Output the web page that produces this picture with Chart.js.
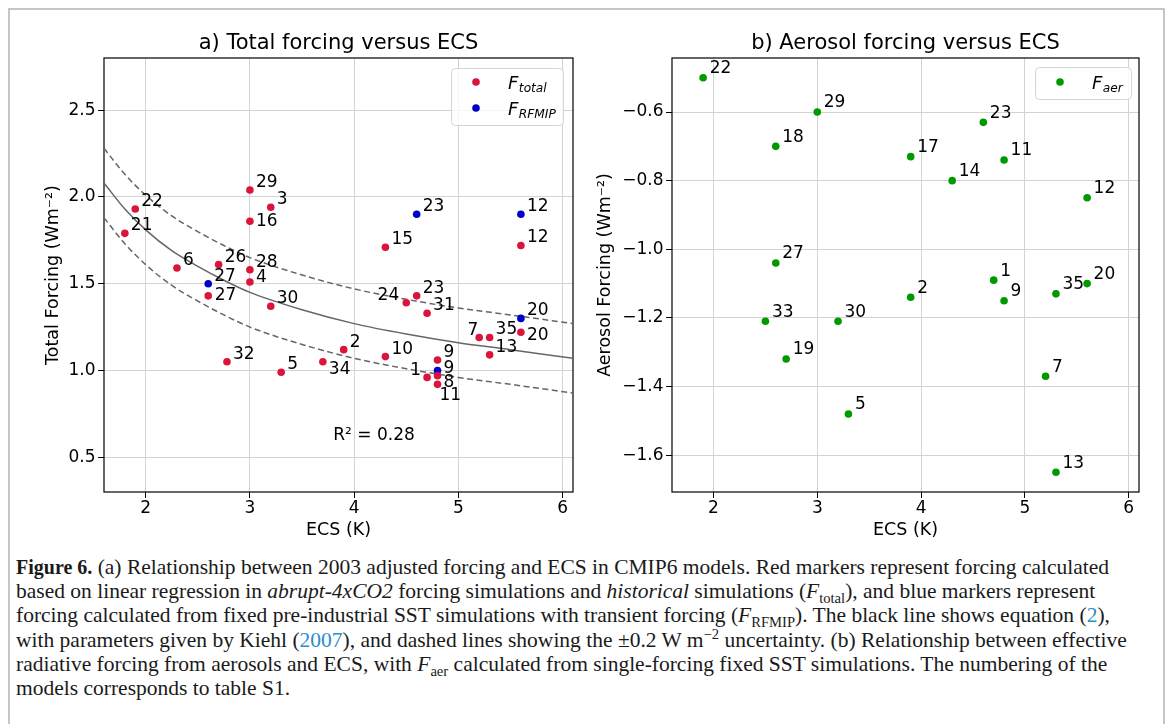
<!DOCTYPE html>
<html>
<head>
<meta charset="utf-8">
<script src="https://cdn.jsdelivr.net/npm/chart.js@4.4.1/dist/chart.umd.min.js"></script>
<style>
  body { margin: 0; background: #fff; width: 1171px; height: 724px; overflow: hidden; position: relative; }
  #frame { position: absolute; left: 8px; top: 8px; width: 1153px; height: 760px; border: 2px solid #c6c6c6; border-bottom: none; }
  #canvasA { position: absolute; left: 0; top: 0; }
  #canvasB { position: absolute; left: 590px; top: 0; }
  #caption { position: absolute; left: 16px; top: 555px; font-family: "Liberation Serif", serif; font-size: 21.5px;
             line-height: 24.2px; color: #1a1a1a; white-space: nowrap; }
  #caption b { font-size: 20px; }
  #caption sub, #caption sup { font-size: 68%; line-height: 0; }
  #caption .ln { color: #2a8ccc; }
</style>
</head>
<body>
<div id="frame"></div>
<canvas id="canvasA" width="590" height="545"></canvas>
<canvas id="canvasB" width="570" height="545"></canvas>
<div id="caption"><b>Figure 6.</b> (a) Relationship between 2003 adjusted forcing and ECS in CMIP6 models. Red markers represent forcing calculated<br>based on linear regression in <i>abrupt-4xCO2</i> forcing simulations and <i>historical</i> simulations (<i>F</i><sub>total</sub>), and blue markers represent<br>forcing calculated from fixed pre-industrial SST simulations with transient forcing (<i>F</i><sub>RFMIP</sub>). The black line shows equation (<span class="ln">2</span>),<br>with parameters given by Kiehl (<span class="ln">2007</span>), and dashed lines showing the ±0.2 W m<sup>−2</sup> uncertainty. (b) Relationship between effective<br>radiative forcing from aerosols and ECS, with <i>F</i><sub>aer</sub> calculated from single-forcing fixed SST simulations. The numbering of the<br>models corresponds to table S1.</div>
<script>
// ---- panel a: total forcing ----
var totalIds = ['29','22','3','16','21','15','12','6','26','28','4','27','30','24','23','31',
                '7','35','20','13','32','2','10','5','34','9','1','8','11'];
var totalEcs = [3.0, 1.9, 3.2, 3.0, 1.8, 4.3, 5.6, 2.3, 2.7, 3.0, 3.0, 2.6, 3.2, 4.5, 4.6, 4.7,
                5.2, 5.3, 5.6, 5.3, 2.78, 3.9, 4.3, 3.3, 3.7, 4.8, 4.7, 4.8, 4.8];
var totalF   = [2.04, 1.93, 1.94, 1.86, 1.79, 1.71, 1.72, 1.59, 1.61, 1.58, 1.51, 1.43, 1.37, 1.39, 1.43, 1.33,
                1.19, 1.19, 1.22, 1.09, 1.05, 1.12, 1.08, 0.99, 1.05, 1.06, 0.96, 0.97, 0.92];

var rfmipIds = ['23','12','27','20','9'];
var rfmipEcs = [4.6, 5.6, 2.6, 5.6, 4.8];
var rfmipF   = [1.90, 1.90, 1.50, 1.30, 1.00];

// Kiehl curve and +-0.2 band
var curveEcs   = [1.6, 1.8, 2.0, 2.25, 2.5, 2.75, 3.0, 3.5, 4.0, 4.5, 5.0, 5.5, 6.1];
var curveMid   = [2.08, 1.93, 1.81, 1.69, 1.60, 1.52, 1.45, 1.35, 1.27, 1.21, 1.16, 1.12, 1.07];
var curveUpper = [2.28, 2.13, 2.01, 1.89, 1.80, 1.72, 1.65, 1.55, 1.47, 1.41, 1.36, 1.32, 1.27];
var curveLower = [1.88, 1.73, 1.61, 1.49, 1.40, 1.32, 1.25, 1.15, 1.07, 1.01, 0.96, 0.92, 0.87];

// ---- panel b: aerosol forcing ----
var aerIds = ['22','29','18','23','17','11','14','12','27','1','20','2','9','35','33','30','19','7','5','13'];
var aerEcs = [1.9, 3.0, 2.6, 4.6, 3.9, 4.8, 4.3, 5.6, 2.6, 4.7, 5.6, 3.9, 4.8, 5.3, 2.5, 3.2, 2.7, 5.2, 3.3, 5.3];
var aerF   = [-0.50, -0.60, -0.70, -0.63, -0.73, -0.74, -0.80, -0.85, -1.04, -1.09, -1.10, -1.14, -1.15, -1.13,
              -1.21, -1.21, -1.32, -1.37, -1.48, -1.65];

var ecsTicks = [2, 3, 4, 5, 6];
var totalTicks = [0.5, 1.0, 1.5, 2.0, 2.5];
var aerTicks = [-1.6, -1.4, -1.2, -1.0, -0.8, -0.6];

// label nudges in px: [dx, dy, align]
var nudgeTotal = { '24': [-7, -7.5, 'right'], '1': [-6, -7, 'right'], '7': [-1, -6.5, 'right'],
                   '34': [6, 7.5], '11': [2, 11.5], '8': [6, 6.5], '20': [6, 3.5], '27': [6.5, -0.5],
                   '16': [6, 0], '4': [6, -4] };
var nudgeRfmip = { '9': [6, -1.5] };

var RED = '#dc143c', BLUE = '#0000cd', GREEN = '#009a00';
var FONT = 'DejaVu Sans';

function pts(xs, ys) {
  return xs.map(function(x, i) { return {x: x, y: ys[i]}; });
}
function minus(v) { return String(v).replace('-', '\u2212'); }

var labelPlugin = {
  id: 'modelLabels',
  afterDatasetsDraw: function(chart, args, opts) {
    var ctx = chart.ctx;
    ctx.save();
    ctx.font = opts.size + 'px ' + FONT;
    ctx.fillStyle = '#000';
    ctx.textBaseline = 'middle';
    chart.data.datasets.forEach(function(ds, i) {
      if (!ds.ids) return;
      var meta = chart.getDatasetMeta(i);
      meta.data.forEach(function(pt, j) {
        var id = ds.ids[j];
        var n = (ds.nudge && ds.nudge[id]) || opts.nudge;
        ctx.textAlign = n[2] || 'left';
        ctx.fillText(id, pt.x + n[0], pt.y + n[1]);
      });
    });
    ctx.restore();
  }
};

var framePlugin = {
  id: 'axesFrame',
  beforeDatasetsDraw: function(chart) {
    var a = chart.chartArea, ctx = chart.ctx;
    ctx.save();
    ctx.strokeStyle = '#000';
    ctx.lineWidth = 1.2;
    ctx.strokeRect(a.left, a.top, a.right - a.left, a.bottom - a.top);
    ctx.restore();
  }
};

// legend with italic F and subscript, matplotlib style
var legendPlugin = {
  id: 'figLegend',
  afterDraw: function(chart, args, opts) {
    var a = chart.chartArea, ctx = chart.ctx;
    var x0 = a.right - opts.right - opts.width, y0 = a.top + opts.top;
    ctx.save();
    ctx.beginPath();
    ctx.roundRect(x0 + 0.5, y0 + 0.5, opts.width, opts.height, 4);
    ctx.fillStyle = 'rgba(255,255,255,0.8)';
    ctx.fill();
    ctx.strokeStyle = '#d4d4d4';
    ctx.lineWidth = 1;
    ctx.stroke();
    opts.items.forEach(function(it, k) {
      var cy = y0 + opts.firstRow + k * opts.rowGap;
      ctx.beginPath();
      ctx.arc(x0 + 25, cy, 3.8, 0, Math.PI * 2);
      ctx.fillStyle = it.color;
      ctx.fill();
      ctx.fillStyle = '#000';
      ctx.textBaseline = 'alphabetic';
      ctx.textAlign = 'left';
      ctx.font = 'italic 18px ' + FONT;
      ctx.fillText('F', x0 + 57, cy + 7);
      var w = ctx.measureText('F').width;
      ctx.font = 'italic 12.2px ' + FONT;
      ctx.fillText(it.sub, x0 + 57 + w + 0.5, cy + 9.5);
    });
    ctx.restore();
  }
};

var notePlugin = {
  id: 'note',
  afterDatasetsDraw: function(chart, args, opts) {
    if (!opts.text) return;
    var ctx = chart.ctx;
    ctx.save();
    ctx.font = '17px ' + FONT;
    ctx.fillStyle = '#000';
    ctx.textAlign = 'left';
    ctx.textBaseline = 'alphabetic';
    ctx.fillText(opts.text, chart.scales.x.getPixelForValue(opts.x), chart.scales.y.getPixelForValue(opts.y));
    ctx.restore();
  }
};

function axisX(titleText) {
  return {
    type: 'linear', min: 1.6, max: 6.1,
    afterBuildTicks: function(s) { s.ticks = ecsTicks.map(function(v) { return {value: v}; }); },
    afterFit: function(s) { s.height = 53; },
    grid: { color: '#d3d3d3', lineWidth: 1, tickColor: '#000', tickLength: 6 },
    border: { display: false },
    ticks: { color: '#000', font: {family: FONT, size: 17}, padding: 0, maxRotation: 0,
             callback: function(v) { return String(v); } },
    title: { display: true, text: titleText, color: '#000', font: {family: FONT, size: 17.5},
             padding: {top: 0, bottom: 4.5} }
  };
}

function axisY(min, max, tickVals, width, titleText, titlePad) {
  return {
    type: 'linear', min: min, max: max,
    afterBuildTicks: function(s) { s.ticks = tickVals.map(function(v) { return {value: v}; }); },
    afterFit: function(s) { s.width = width; },
    grid: { color: '#d3d3d3', lineWidth: 1, tickColor: '#000', tickLength: 6 },
    border: { display: false },
    ticks: { color: '#000', font: {family: FONT, size: 17}, padding: 2.5,
             callback: function(v) { return minus(v.toFixed(1)); } },
    title: { display: true, text: titleText, color: '#000', font: {family: FONT, size: 17.5},
             padding: {top: titlePad, bottom: 0} }
  };
}

function titleOpts(text) {
  return { display: true, text: text, fullSize: false, color: '#000',
           font: {family: FONT, size: 21, weight: 'normal'}, padding: {top: 31.4, bottom: 1.4} };
}

var configA = {
  type: 'scatter',
  data: {
    datasets: [
      { label: 'F_total', ids: totalIds, nudge: nudgeTotal, data: pts(totalEcs, totalF),
        backgroundColor: RED, borderWidth: 0, pointRadius: 3.8 },
      { label: 'F_RFMIP', ids: rfmipIds, nudge: nudgeRfmip, data: pts(rfmipEcs, rfmipF),
        backgroundColor: BLUE, borderWidth: 0, pointRadius: 3.8 },
      { label: 'Kiehl', data: pts(curveEcs, curveMid), showLine: true, pointRadius: 0,
        borderColor: '#666', borderWidth: 1.5, cubicInterpolationMode: 'monotone' },
      { label: 'upper', data: pts(curveEcs, curveUpper), showLine: true, pointRadius: 0,
        borderColor: '#666', borderWidth: 1.5, borderDash: [6, 3.5], cubicInterpolationMode: 'monotone' },
      { label: 'lower', data: pts(curveEcs, curveLower), showLine: true, pointRadius: 0,
        borderColor: '#666', borderWidth: 1.5, borderDash: [6, 3.5], cubicInterpolationMode: 'monotone' }
    ]
  },
  options: {
    responsive: false, animation: false, devicePixelRatio: 1,
    layout: { padding: {left: 0, right: 17, top: 0, bottom: 0} },
    scales: {
      x: axisX('ECS (K)'),
      y: axisY(0.3, 2.8, totalTicks, 104, 'Total Forcing (Wm\u207B\u00B2)', 43)
    },
    plugins: {
      legend: { display: false },
      tooltip: { enabled: false },
      title: titleOpts('a) Total forcing versus ECS'),
      modelLabels: { size: 17, nudge: [6, -7.5] },
      note: { x: 3.8, y: 0.6, text: 'R\u00B2 = 0.28' },
      figLegend: { right: 10, top: 10, width: 112, height: 57, firstRow: 14, rowGap: 26,
                   items: [{color: RED, sub: 'total'}, {color: BLUE, sub: 'RFMIP'}] }
    }
  },
  plugins: [framePlugin, labelPlugin, notePlugin, legendPlugin]
};

var configB = {
  type: 'scatter',
  data: {
    datasets: [
      { label: 'F_aer', ids: aerIds, data: pts(aerEcs, aerF),
        backgroundColor: GREEN, borderWidth: 0, pointRadius: 3.8 }
    ]
  },
  options: {
    responsive: false, animation: false, devicePixelRatio: 1,
    layout: { padding: {left: 0, right: 21, top: 0, bottom: 0} },
    scales: {
      x: axisX('ECS (K)'),
      y: axisY(-1.7075, -0.4425, aerTicks, 82, 'Aerosol Forcing (Wm\u207B\u00B2)', 5)
    },
    plugins: {
      legend: { display: false },
      tooltip: { enabled: false },
      title: titleOpts('b) Aerosol forcing versus ECS'),
      modelLabels: { size: 17, nudge: [6.5, -9] },
      note: {},
      figLegend: { right: 8, top: 9, width: 96, height: 32, firstRow: 15, rowGap: 26,
                   items: [{color: GREEN, sub: 'aer'}] }
    }
  },
  plugins: [framePlugin, labelPlugin, notePlugin, legendPlugin]
};

window.onload = function() {
  window.chartA = new Chart(document.getElementById('canvasA').getContext('2d'), configA);
  window.chartB = new Chart(document.getElementById('canvasB').getContext('2d'), configB);
};
</script>
</body>
</html>
